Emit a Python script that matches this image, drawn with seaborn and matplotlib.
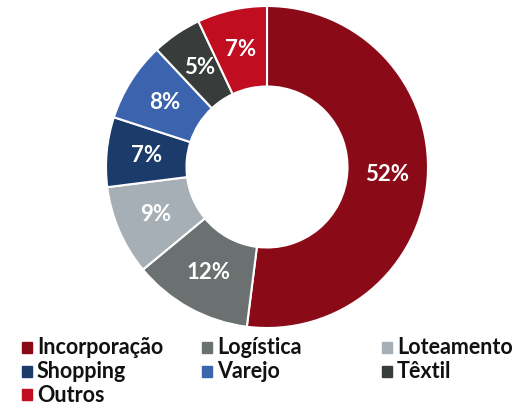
import matplotlib
matplotlib.use("Agg")
import matplotlib.pyplot as plt
from matplotlib.patches import Rectangle
import seaborn as sns

categories = ["Incorporação", "Logística", "Loteamento", "Shopping", "Varejo", "Têxtil", "Outros"]
values = [52, 12, 9, 7, 8, 5, 7]
colors = ["#8B0A18", "#6B7170", "#A7AFB6", "#1B3C6A", "#3C63AE", "#383D3C", "#C00D20"]

sns.set_theme(style="white")
plt.rcParams["font.family"] = ["Lato", "DejaVu Sans"]

W, H = 516, 405
fig = plt.figure(figsize=(W / 100, H / 100), dpi=100)

cx, cy, r = 267, 167, 161
ax = fig.add_axes([(cx - r) / W, (H - cy - r) / H, 2 * r / W, 2 * r / H])
wedges, texts, autotexts = ax.pie(
    values,
    colors=colors,
    startangle=90,
    counterclock=False,
    radius=1,
    autopct="%d%%",
    pctdistance=0.75,
    wedgeprops=dict(width=0.5, edgecolor="white", linewidth=1.5),
    textprops=dict(color="white", fontsize=16, fontweight="bold"),
)
ax.set_xlim(-1, 1)
ax.set_ylim(-1, 1)
ax.set_aspect("equal")
ax.axis("off")

# legend laid out by hand: 3 columns, uneven spacing like the original
col_sq = [22, 202, 382]
row_y = [348, 372, 395]
for i, (lab, col) in enumerate(zip(categories, colors)):
    c, rw = i % 3, i // 3
    x0, y0 = col_sq[c], row_y[rw]
    fig.patches.append(Rectangle((x0 / W, (H - y0 - 5) / H), 10 / W, 11 / H,
                                 transform=fig.transFigure, color=col))
    fig.text((x0 + 15) / W, (H - y0) / H, lab, fontsize=15.5, fontweight="bold",
             color="#111111", va="center", ha="left")

fig.savefig("out.png", dpi=100)
